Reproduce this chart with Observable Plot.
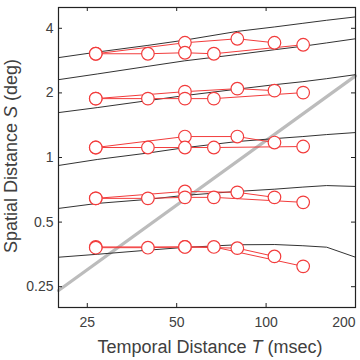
<!DOCTYPE html>
<html><head><meta charset="utf-8">
<script src="https://cdn.jsdelivr.net/npm/d3@7"></script>
<script src="https://cdn.jsdelivr.net/npm/@observablehq/plot@0.6"></script>
<style>body{margin:0;background:#fff}</style>
</head><body><div id="chart"></div>
<script>
// Axis ticks
const xTicks = [25, 50, 100, 200];
const yTicks = [0.25, 0.5, 1, 2, 4];

// Reference (constant speed) line endpoints
const speedT = [20, 200];
const speedS = [0.24, 2.4];

// Model curves (black), sampled at modelT
const modelT = [20, 27, 40, 53, 80, 107, 133, 160, 200];
const model1 = [0.343, 0.354, 0.370, 0.381, 0.392, 0.393, 0.388, 0.382, 0.343];
const model2 = [0.579, 0.611, 0.638, 0.666, 0.695, 0.712, 0.728, 0.740, 0.733];
const model3 = [0.918, 0.979, 1.049, 1.110, 1.187, 1.225, 1.252, 1.279, 1.307];
const model4 = [1.619, 1.708, 1.841, 1.942, 2.082, 2.185, 2.256, 2.330, 2.432];
const model5 = [2.305, 2.450, 2.660, 2.820, 3.020, 3.180, 3.300, 3.420, 3.575];
const model6 = [2.920, 3.100, 3.330, 3.520, 3.870, 4.060, 4.220, 4.360, 4.520];

// Measured data (red), two conditions per group
const tA = [26.7, 53.3, 80, 106.7];
const tB = [26.7, 40, 53.3, 66.7, 133.3];
const g1A = [0.383, 0.383, 0.378, 0.346];
const g1B = [0.380, 0.380, 0.383, 0.383, 0.311];
const g2A = [0.645, 0.695, 0.688, 0.652];
const g2B = [0.645, 0.645, 0.652, 0.652, 0.618];
const g3A = [1.113, 1.252, 1.252, 1.174];
const g3B = [1.113, 1.113, 1.113, 1.113, 1.125];
const g4A = [1.881, 2.027, 2.093, 2.049];
const g4B = [1.881, 1.881, 1.881, 1.881, 2.006];
const g5A = [3.044, 3.425, 3.575, 3.425];
const g5B = [3.044, 3.044, 3.077, 3.044, 3.352];

// Build tidy tables
const speed = speedT.map((t, i) => ({T: t, S: speedS[i]}));
const models = [model1, model2, model3, model4, model5, model6]
  .flatMap((arr, k) => arr.map((s, i) => ({id: "m" + k, T: modelT[i], S: s})));
const redSets = [
  ["g1A", tA, g1A], ["g1B", tB, g1B], ["g2A", tA, g2A], ["g2B", tB, g2B],
  ["g3A", tA, g3A], ["g3B", tB, g3B], ["g4A", tA, g4A], ["g4B", tB, g4B],
  ["g5A", tA, g5A], ["g5B", tB, g5B]
];
const reds = redSets.flatMap(([id, ts, ss]) => ts.map((t, i) => ({id, T: t, S: ss[i]})));

const W = 360, H = 360, mL = 58, mR = 5, mT = 7, mB = 53;
const innerW = W - mL - mR, innerH = H - mT - mB;
const red = "#f23c3c";
const axisCol = "#222";
const textCol = "#404040";
const lastX = xTicks[xTicks.length - 1];

const chart = Plot.plot({
  width: W, height: H,
  marginLeft: mL, marginRight: mR, marginTop: mT, marginBottom: mB,
  style: {fontFamily: "'Liberation Sans', Arial, sans-serif", background: "white"},
  x: {type: "log", domain: [20, 200]},
  y: {type: "log", domain: [0.2, 5]},
  marks: [
    Plot.line(speed, {x: "T", y: "S", stroke: "#bcbcbc", strokeWidth: 3.2}),
    Plot.line(models, {x: "T", y: "S", z: "id", stroke: "#333", strokeWidth: 1}),
    Plot.line(reds, {x: "T", y: "S", z: "id", stroke: red, strokeWidth: 1}),
    Plot.dot(reds, {x: "T", y: "S", r: 6.3, fill: "white", stroke: red, strokeWidth: 1.2}),
    Plot.frame({stroke: axisCol, strokeWidth: 1.2}),
    Plot.tickX(xTicks, {x: d => d, insetTop: innerH - 4, stroke: axisCol}),
    Plot.tickX(xTicks, {x: d => d, insetBottom: innerH - 4, stroke: axisCol}),
    Plot.tickY(yTicks, {y: d => d, insetRight: innerW - 4, stroke: axisCol}),
    Plot.tickY(yTicks, {y: d => d, insetLeft: innerW - 4, stroke: axisCol}),
    Plot.axisX({ticks: xTicks.filter(d => d !== lastX), tickSize: 0, tickPadding: 10, fontSize: 14, fill: textCol, label: null, tickFormat: d => String(d)}),
    Plot.axisX({ticks: [lastX], tickSize: 0, tickPadding: 10, fontSize: 14, fill: textCol, label: null, textAnchor: "end", tickFormat: d => String(d)}),
    Plot.axisY({ticks: yTicks, tickSize: 0, tickPadding: 5, fontSize: 14, fill: textCol, label: null, tickFormat: d => String(d)})
  ]
});

const svg = d3.select(chart);
const xl = svg.append("text")
  .attr("x", 210).attr("y", 353)
  .attr("text-anchor", "middle")
  .attr("font-size", 18).attr("fill", textCol)
  .attr("font-family", "'Liberation Sans', Arial, sans-serif");
xl.append("tspan").text("Temporal Distance ");
xl.append("tspan").attr("font-style", "italic").text("T");
xl.append("tspan").text(" (msec)");

const yl = svg.append("text")
  .attr("transform", "translate(17,156) rotate(-90)")
  .attr("text-anchor", "middle")
  .attr("font-size", 18).attr("fill", textCol)
  .attr("font-family", "'Liberation Sans', Arial, sans-serif");
yl.append("tspan").text("Spatial Distance ");
yl.append("tspan").attr("font-style", "italic").text("S");
yl.append("tspan").text(" (deg)");

document.getElementById("chart").appendChild(chart);
</script>
</body></html>
